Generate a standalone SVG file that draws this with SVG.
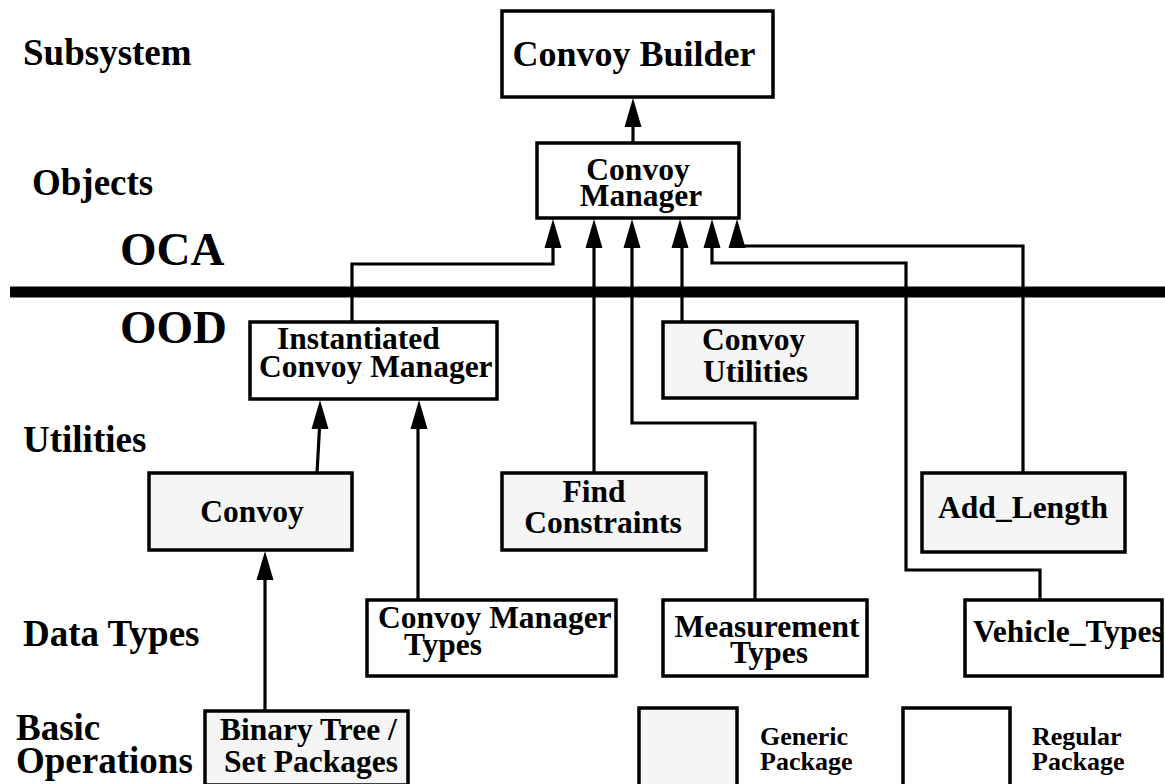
<svg xmlns="http://www.w3.org/2000/svg" xmlns:xlink="http://www.w3.org/1999/xlink" width="1165" height="784" viewBox="0 0 1165 784">
<style>
text{font-family:"Liberation Serif","Times New Roman",serif;font-weight:bold;fill:#000}
.lbl{font-size:37px}
.big{font-size:47px}
.nt{font-size:31.5px}
.leg{font-size:26px}
.box{stroke:#000;stroke-width:3.5;fill:#fff}
.gen{fill:#f5f5f5}
.con{fill:none;stroke:#000;stroke-width:3.2}
.mid{text-anchor:middle}
</style>
<defs>
<path id="ah" d="M0,0 L8.5,29 L-8.5,29 Z" fill="#000"/>
</defs>
<rect width="1165" height="784" fill="#fff"/>
<g id="labels">
<text class="lbl" x="23" y="65">Subsystem</text>
<text class="lbl" x="32" y="195">Objects</text>
<text class="big" x="120" y="265">OCA</text>
<text class="big" x="120" y="343">OOD</text>
<text class="lbl" x="23" y="452">Utilities</text>
<text class="lbl" x="23" y="646">Data Types</text>
<text class="lbl" x="16" y="740">Basic</text>
<text class="lbl" x="16" y="773">Operations</text>
</g>
<line x1="10" y1="292" x2="1165" y2="292" stroke="#000" stroke-width="11"/>
<g id="connectors">
<line class="con" x1="633" y1="143" x2="633" y2="126"/>
<use xlink:href="#ah" x="633" y="98"/>
<path class="con" d="M352,322 V264 H553 V247"/>
<use xlink:href="#ah" x="553" y="219"/>
<path class="con" d="M594,473 V247"/>
<use xlink:href="#ah" x="594" y="219"/>
<path class="con" d="M755,600 V423 H632 V247"/>
<use xlink:href="#ah" x="632" y="219"/>
<path class="con" d="M682,322 V247"/>
<use xlink:href="#ah" x="680" y="219"/>
<path class="con" d="M1040,600 V570 H906 V263 H712 V247"/>
<use xlink:href="#ah" x="712" y="219"/>
<path class="con" d="M1023,473 V246 H737"/>
<use xlink:href="#ah" x="737" y="219"/>
<path class="con" d="M317,473 L319.5,428"/>
<use xlink:href="#ah" x="320" y="400"/>
<path class="con" d="M418,600 V428"/>
<use xlink:href="#ah" x="419" y="400"/>
<path class="con" d="M265,710 V579"/>
<use xlink:href="#ah" x="265" y="551"/>
</g>
<g id="convoy-builder">
<rect class="box" x="502" y="11" width="271" height="86"/>
<text class="mid" x="634" y="66" font-size="36">Convoy Builder</text>
</g>
<g id="convoy-manager">
<rect class="box" x="537" y="143" width="202" height="75"/>
<text class="nt mid" x="638" y="180">Convoy</text>
<text class="nt mid" x="641" y="206">Manager</text>
</g>
<g id="instantiated-convoy-manager">
<rect class="box" x="250" y="322" width="247" height="77"/>
<text class="nt" x="277" y="349">Instantiated</text>
<text class="nt" x="259" y="377">Convoy Manager</text>
</g>
<g id="convoy-utilities">
<rect class="box gen" x="663" y="322" width="194" height="76"/>
<text class="nt" x="702" y="350">Convoy</text>
<text class="nt" x="703" y="382">Utilities</text>
</g>
<g id="convoy">
<rect class="box gen" x="149" y="473" width="203" height="77"/>
<text class="nt mid" x="252" y="522">Convoy</text>
</g>
<g id="find-constraints">
<rect class="box gen" x="502" y="473" width="204" height="77"/>
<text class="nt mid" x="594" y="502">Find</text>
<text class="nt mid" x="603" y="533">Constraints</text>
</g>
<g id="add-length">
<rect class="box gen" x="922" y="473" width="203" height="79"/>
<text class="nt mid" x="1023" y="518">Add_Length</text>
</g>
<g id="convoy-manager-types">
<rect class="box" x="367" y="600" width="249" height="76"/>
<text class="nt" x="378" y="628">Convoy Manager</text>
<text class="nt mid" x="443" y="655">Types</text>
</g>
<g id="measurement-types">
<rect class="box" x="663" y="600" width="204" height="76"/>
<text class="nt mid" x="767" y="637">Measurement</text>
<text class="nt mid" x="769" y="663">Types</text>
</g>
<g id="vehicle-types">
<rect class="box" x="965" y="600" width="197" height="76"/>
<text class="nt" x="973" y="642">Vehicle_Types</text>
</g>
<g id="binary-tree-set-packages">
<rect class="box gen" x="205" y="711" width="203" height="74"/>
<text class="nt" x="220" y="740">Binary Tree /</text>
<text class="nt" x="224" y="772">Set Packages</text>
</g>
<g id="legend">
<rect class="box gen" x="639" y="708" width="98" height="80"/>
<text class="leg" x="760" y="745">Generic</text>
<text class="leg" x="760" y="770">Package</text>
<rect class="box" x="903" y="708" width="107" height="80"/>
<text class="leg" x="1032" y="745">Regular</text>
<text class="leg" x="1032" y="770">Package</text>
</g>
</svg>
